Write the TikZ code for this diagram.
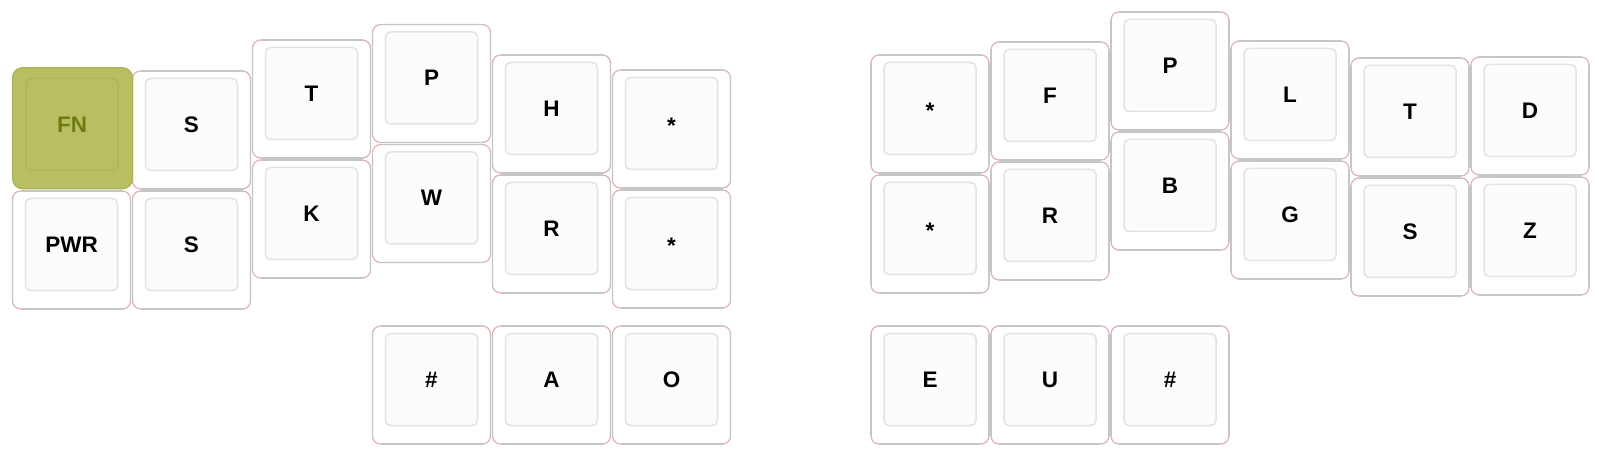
\documentclass[tikz,border=0pt]{standalone}
\usepackage{fontspec}
\setmainfont{Liberation Sans}
\definecolor{keypink}{HTML}{DDB2B2}
\definecolor{keygray}{HTML}{C6C6C6}
\definecolor{innergray}{HTML}{E3E3E3}
\definecolor{innerfill}{HTML}{FCFCFC}
\definecolor{fnfill}{HTML}{B7BF62}
\definecolor{fnedge}{HTML}{ABB253}
\definecolor{fninner}{HTML}{ADB556}
\definecolor{fntext}{HTML}{6D7B12}
\tikzset{
  keyout/.style={draw=keypink, line width=1.2pt, fill=white, rounded corners=8pt,
    minimum width=118pt, minimum height=118pt, inner sep=0pt, outer sep=0pt},
  keyedge/.style={draw=keygray, line width=1.8pt},
  keyin/.style={draw=innergray, line width=1.5pt, fill=innerfill, rounded corners=5pt,
    minimum width=92pt, minimum height=92pt, inner sep=0pt, outer sep=0pt},
  keylabel/.style={font=\fontsize{22.5}{27}\selectfont\bfseries, inner sep=0pt,
    text=black, anchor=base}
}
% #1 baseline shift, #2 name, #3 cell x, #4 cell y, #5 label
\newcommand\keycap[5][8]{%
  \node[keyout] (#2) at ({#3+60},{#4+60}) {};
  \draw[keyedge] ([xshift=8pt]#2.north west) -- ([xshift=-8pt]#2.north east)
    ([xshift=8pt]#2.south west) -- ([xshift=-8pt]#2.south east)
    ([yshift=-8pt]#2.north west) -- ([yshift=8pt]#2.south west)
    ([yshift=-8pt]#2.north east) -- ([yshift=8pt]#2.south east);
  \node[keyin] (#2i) at ({#3+60},{#4+54.5}) {};
  \node[keylabel] (#2t) at ([yshift=-#1pt]#2i.center) {#5};
}
\begin{document}
\begin{tikzpicture}[x=1pt,y=-1pt]
\useasboundingbox (0,0) rectangle (1599,457);
% left half
\keycap{L01}{11.5}{190}{PWR}
\keycap{L10}{131.5}{70}{S}
\keycap{L11}{131.5}{190}{S}
\keycap{L20}{251.5}{39}{T}
\keycap{L21}{251.5}{159}{K}
\keycap{L30}{371.5}{23.5}{P}
\keycap{L31}{371.5}{143.5}{W}
\keycap{L40}{491.5}{54}{H}
\keycap{L41}{491.5}{174}{R}
\keycap[10]{L50}{611.5}{69}{*}
\keycap[10]{L51}{611.5}{189}{*}
\keycap{LT0}{371.5}{325}{\#}
\keycap{LT1}{491.5}{325}{A}
\keycap{LT2}{611.5}{325}{O}
% FN key (held)
\node[keyout, fill=fnfill, draw=fnedge, minimum width=120pt, minimum height=121pt,
  rounded corners=10pt] (L00) at (72.5,128.2) {};
\node[keyin, fill=fnfill, draw=fninner] (L00i) at (72,124.5) {};
\node[keylabel, text=fntext] (L00t) at ([yshift=-8pt]L00i.center) {FN};
% right half
\keycap[10]{R00}{870}{54}{*}
\keycap[10]{R01}{870}{174}{*}
\keycap{R10}{990}{41}{F}
\keycap{R11}{990}{161}{R}
\keycap{R20}{1110}{11}{P}
\keycap{R21}{1110}{131}{B}
\keycap{R30}{1230}{40}{L}
\keycap{R31}{1230}{160}{G}
\keycap{R40}{1350}{57}{T}
\keycap{R41}{1350}{177}{S}
\keycap{R50}{1470}{56}{D}
\keycap{R51}{1470}{176}{Z}
\keycap{RT0}{870}{325}{E}
\keycap{RT1}{990}{325}{U}
\keycap{RT2}{1110}{325}{\#}
\end{tikzpicture}
\end{document}
